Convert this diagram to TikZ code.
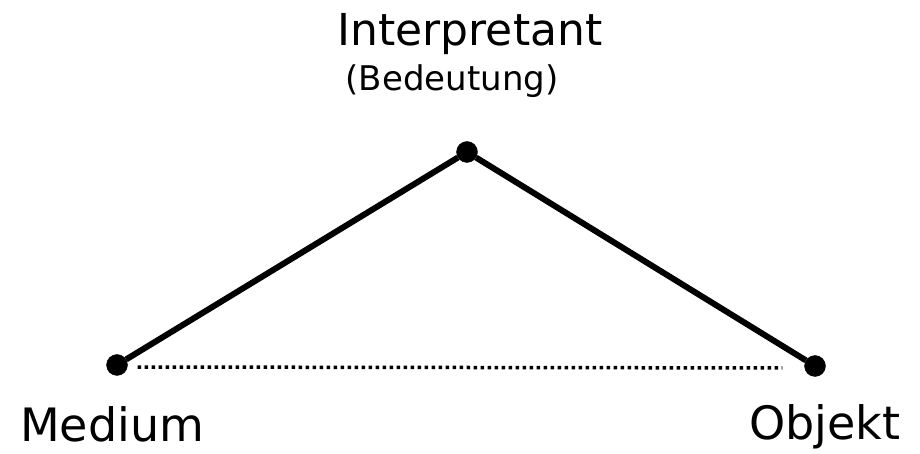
\documentclass[tikz,border=0pt]{standalone}
\usepackage{fontspec}
\setmainfont{DejaVu Sans}

\begin{document}
\begin{tikzpicture}[x=1pt, y=1pt, main/.style = {draw, circle, fill=black, inner sep=0pt, minimum size=21pt}, label/.style = {anchor=base, inner sep=0pt}]
		\useasboundingbox (0,0) rectangle (920,454);
		\node[main] (interp) at (467,302) {};
		\node[main] (medium) at (117,89) {};
		\node[main] (objekt) at (815,88) {};
		\node[label, font=\fontsize{44}{50}\selectfont] (t1) at (470,408) {Interpretant};
		\node[label, font=\fontsize{34}{40}\selectfont] (t2) at (452,363) {(Bedeutung)};
		\node[label, font=\fontsize{46}{52}\selectfont] (t3) at (112,12) {Medium};
		\node[label, font=\fontsize{46}{52}\selectfont] (t4) at (825,14) {Objekt};
		\draw[line width=6pt] (medium) -- (interp);
		\draw[line width=6pt] (interp) -- (objekt);
		\draw[line width=3.5pt, dash pattern=on 3.5pt off 3.5pt, shorten <=10pt, shorten >=22pt] ([yshift=-2pt]medium.east) -- ([yshift=-2pt]objekt.west);
	\end{tikzpicture}
\end{document}
